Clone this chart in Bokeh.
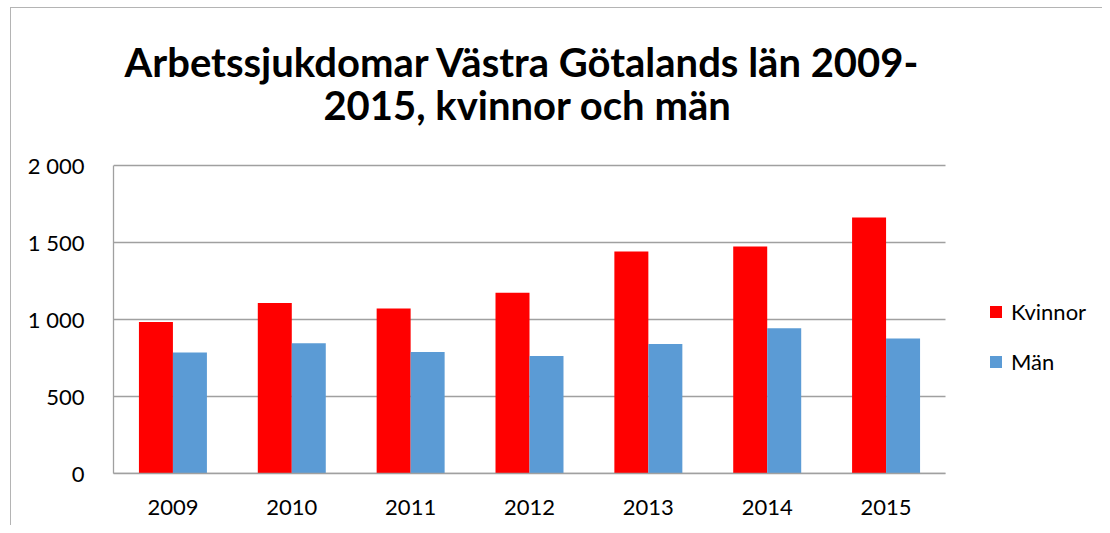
from bokeh.plotting import figure
from bokeh.models import (ColumnDataSource, Range1d, Label, Legend, LegendItem,
                          FixedTicker)
from bokeh.transform import dodge
from bokeh.embed import file_html
from bokeh.resources import INLINE

# ---- data ----
years = ["2009", "2010", "2011", "2012", "2013", "2014", "2015"]
kvinnor = [983, 1107, 1072, 1174, 1442, 1474, 1663]
man = [785, 845, 789, 763, 841, 943, 876]
y_ticks = [0, 500, 1000, 1500, 2000]
y_tick_labels = ["0", "500", "1 000", "1 500", "2 000"]
title_lines = ["Arbetssjukdomar Västra Götalands län  2009-", "2015, kvinnor och män"]
series_names = ["Kvinnor", "Män"]

RED = "#ff0000"
BLUE = "#5b9bd5"
GRID = "#a0a0a0"
FONT = "Lato"

n = len(years)
xc = [i + 0.5 for i in range(n)]
bw = 0.286
src = ColumnDataSource(dict(x=xc, years=years, kvinnor=kvinnor, man=man))

# frame spans the whole area right/above the axes; plot area = x 0..7, y 0..2000
FRAME_W = 1102 - 113
FRAME_H = 473
CAT_PX = (945 - 113) / n
Y_PX = 308 / 2000

p = figure(x_range=Range1d(0, FRAME_W / CAT_PX), y_range=Range1d(0, FRAME_H / Y_PX),
           width=1102, height=525, output_backend="svg", toolbar_location=None,
           min_border_left=113, min_border_right=0, min_border_top=0,
           min_border_bottom=52)
p.outline_line_color = None
p.background_fill_color = None
p.border_fill_color = None
p.styles = {
    "background": ("linear-gradient(#b4b4b4,#b4b4b4) 10px 7px / 1px 100% no-repeat, "
                   "linear-gradient(#b4b4b4,#b4b4b4) 10px 7px / 100% 1px no-repeat, white"),
}

# gridlines limited to the plot area
p.xgrid.grid_line_color = None
p.ygrid.grid_line_color = None
p.segment(x0=0, x1=n, y0=y_ticks, y1=y_ticks, line_color=GRID, line_width=1.3)

r1 = p.vbar(x=dodge("x", -bw / 2), top="kvinnor", width=bw, source=src,
            fill_color=RED, line_color=None)
r2 = p.vbar(x=dodge("x", bw / 2), top="man", width=bw, source=src,
            fill_color=BLUE, line_color=None)

# axes
p.yaxis.ticker = FixedTicker(ticks=y_ticks)
p.yaxis.major_label_overrides = {t: l for t, l in zip(y_ticks, y_tick_labels)}
p.yaxis.bounds = (0, max(y_ticks))
p.xaxis.ticker = FixedTicker(ticks=xc)
p.xaxis.major_label_overrides = {x: y for x, y in zip(xc, years)}
p.xaxis.bounds = (0, n)
for ax in (p.xaxis, p.yaxis):
    ax.axis_line_color = GRID
    ax.axis_line_width = 1.3
    ax.major_tick_line_color = None
    ax.minor_tick_line_color = None
    ax.major_label_text_font = FONT
    ax.major_label_text_font_size = "22px"
    ax.major_label_text_color = "black"
p.yaxis.major_label_standoff = 23
p.xaxis.major_label_standoff = 20

# title
for line, ypix in zip(title_lines, [61, 104]):
    p.add_layout(Label(x=(527 - 113) / CAT_PX, y=(FRAME_H - ypix) / Y_PX, text=line,
                       text_align="center", text_baseline="middle", text_font=FONT,
                       text_font_size="40px", text_font_style="bold",
                       text_color="black"))

legend = Legend(items=[LegendItem(label=series_names[0], renderers=[r1]),
                       LegendItem(label=series_names[1], renderers=[r2])],
                location=(875, 98), orientation="vertical")
legend.border_line_color = None
legend.background_fill_alpha = 0
legend.padding = 0
legend.margin = 0
legend.glyph_width = 15
legend.glyph_height = 15
legend.label_height = 15
legend.spacing = 23
legend.label_standoff = 8
legend.label_text_font = FONT
legend.label_text_font_size = "22px"
legend.label_text_color = "black"
p.add_layout(legend)

open("out.html", "w").write(file_html(p, INLINE))
